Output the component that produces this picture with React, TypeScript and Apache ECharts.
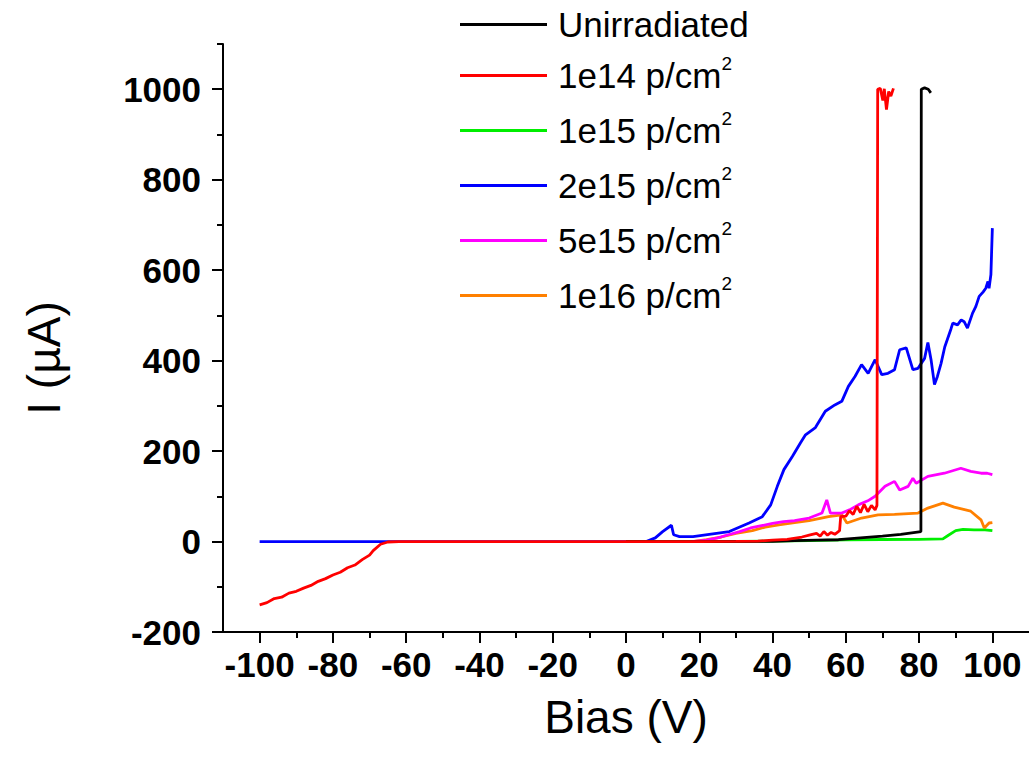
import React, { useEffect, useRef } from "react";
import * as echarts from "echarts";

// Tick values
const xMajorTicks = [-100, -80, -60, -40, -20, 0, 20, 40, 60, 80, 100];
const xMinorTicks = [-90, -70, -50, -30, -10, 10, 30, 50, 70, 90];
const yMajorTicks = [-200, 0, 200, 400, 600, 800, 1000];
const yMinorTicks = [-100, 100, 300, 500, 700, 900, 1100];

// Series names
const seriesNames = ["Unirradiated", "1e14 p/cm", "1e15 p/cm", "2e15 p/cm", "5e15 p/cm", "1e16 p/cm"];
const seriesColors = ["#000000", "#ff0000", "#00ee00", "#0000ff", "#ff00ff", "#ff8000"];

// [Bias (V), I (uA)]
const unirradiated = [
  [0, 0], [20, 0], [40, 0.5], [46, 2], [52, 3], [58, 4], [64, 8], [70, 12], [75, 16], [80.5, 22],
  [80.6, 1000], [81.5, 1003], [82.5, 1000], [83.2, 992],
];
const p1e14 = [
  [-100, -140], [-98, -135], [-96, -126], [-94, -123], [-92, -114], [-90, -110], [-88, -103], [-86, -97],
  [-84, -88], [-82, -82], [-80, -74], [-78, -68], [-76, -58], [-74, -52], [-72, -40], [-70, -30],
  [-69, -20], [-67, -6], [-65, -1], [-62, 0], [-40, 0], [0, 0],
  [20, 0], [30, 0.5], [36, 1], [40, 3], [44, 5], [48, 10], [50, 14], [52, 18], [53, 12], [54, 22],
  [55, 14], [56, 20], [57, 16], [58.3, 24], [58.6, 55], [60, 56], [61, 68], [62, 60], [63, 78],
  [64, 64], [65, 82], [66, 66], [67, 80], [68, 70], [68.5, 80], [68.7, 1000], [69.4, 1002],
  [70.1, 975], [70.5, 1001], [71.1, 955], [71.7, 995], [72.3, 985], [73, 1002],
];
const p1e15 = [
  [0, 0], [20, 0], [30, 0.5], [40, 1], [50, 2], [60, 3.5], [70, 4.5], [80, 5], [86.5, 6], [88, 14],
  [90, 24], [92, 27], [95, 26], [98, 26], [100, 24],
];
const p2e15 = [
  [-100, 0], [-60, 0], [0, 0], [5.5, 0], [8, 8], [10, 22], [12.4, 36], [13, 15], [14.6, 11], [18.3, 11],
  [23.7, 17], [28.2, 22], [33.6, 41], [37.2, 55], [39.5, 81], [41.3, 122], [43.1, 159], [45.4, 188],
  [47.6, 218], [49, 236], [51.7, 252], [54.4, 288], [57, 302], [58.9, 310], [60.7, 343], [62.5, 365],
  [64.3, 391], [66.1, 372], [68, 402], [69.8, 369], [71.5, 372], [73.3, 380], [74.7, 424], [76.5, 428],
  [78.3, 380], [79.7, 383], [81.5, 405], [82.4, 440], [83.3, 400], [84.2, 347], [85, 365], [86, 394],
  [87, 430], [88.7, 470], [89.2, 483], [90.5, 479], [91.5, 490], [92.3, 486], [93.2, 472], [94.6, 505],
  [95.5, 520], [96.4, 542], [97.5, 552], [98.2, 560], [98.8, 575], [99.1, 560], [99.6, 590], [100, 693],
];
const p5e15 = [
  [18, 0], [22, 3], [25, 8], [28, 15], [31, 22], [34, 30], [37, 35], [40, 40], [43, 44], [46, 46],
  [50, 52], [53.5, 63], [54.8, 92], [55.8, 63], [58.9, 63], [61, 70], [63.4, 81], [66, 90], [68, 100],
  [70.7, 122], [73.3, 133], [74.7, 114], [77, 122], [78.3, 140], [79.2, 129], [82.4, 144], [86.9, 151],
  [91.4, 162], [94.1, 155], [96.9, 151], [98.6, 151], [100, 148],
];
const p1e16 = [
  [18, 0], [22, 4], [26, 10], [30, 18], [34.5, 24], [38, 32], [41.7, 37], [46, 42], [50, 46],
  [55.3, 55], [58.9, 59], [60.3, 41], [64.3, 52], [68.8, 59], [73.3, 60], [79.7, 63], [82.4, 74],
  [86.5, 85], [89.6, 76], [94.1, 67], [96.9, 48], [97.8, 30], [99.1, 41], [100, 42],
];

const seriesData = [unirradiated, p1e14, p1e15, p2e15, p5e15, p1e16];
const seriesZ = [5, 6, 3, 2, 4, 3];

const FONT = "Liberation Sans, Arial, sans-serif";

export default function App() {
  const ref = useRef<HTMLDivElement>(null);
  useEffect(() => {
    if (!ref.current) return;
    const chart = echarts.init(ref.current, null, { renderer: "svg" });
    const axisLineStyle = { color: "#000", width: 2 };
    const labelStyle = {
      show: true,
      fontSize: 35,
      fontWeight: "bold",
      fontFamily: FONT,
      color: "#000",
      formatter: (v: number) => String(v),
    };
    chart.setOption({
      animation: false,
      backgroundColor: "#ffffff",
      grid: { left: 223, top: 44, right: -6, bottom: 133, containLabel: false },
      legend: {
        show: true,
        orient: "vertical",
        left: 460,
        top: 7,
        padding: 0,
        itemWidth: 87,
        itemHeight: 3,
        itemGap: 12,
        icon: "rect",
        data: seriesNames,
        formatter: (name: string) => (name === "Unirradiated" ? `{a|${name}}` : `{a|${name}}{s|2}`),
        textStyle: {
          rich: {
            a: { fontSize: 35, fontFamily: FONT, color: "#000", lineHeight: 42, padding: [0, 0, 0, 6] },
            s: { fontSize: 19, fontFamily: FONT, color: "#000", lineHeight: 18, padding: [0, 0, 24, 0] },
          },
        },
      },
      graphic: [
        {
          type: "text",
          x: 44,
          y: 358,
          rotation: Math.PI / 2,
          style: {
            text: "I (\u00b5A)",
            fontSize: 46,
            fontFamily: FONT,
            fill: "#000",
            align: "center",
            verticalAlign: "middle",
          },
        },
      ],
      xAxis: [
        {
          type: "value",
          min: -110,
          max: 110,
          name: "Bias (V)",
          nameLocation: "middle",
          nameGap: 62,
          nameTextStyle: { fontSize: 46, fontFamily: FONT, color: "#000" },
          axisLine: { show: true, onZero: false, lineStyle: axisLineStyle },
          axisTick: { show: true, length: 11, lineStyle: axisLineStyle, customValues: xMajorTicks },
          axisLabel: { ...labelStyle, margin: 15, customValues: xMajorTicks },
          splitLine: { show: false },
        },
        {
          type: "value",
          min: -110,
          max: 110,
          position: "bottom",
          axisLine: { show: false, onZero: false },
          axisTick: { show: true, length: 6, lineStyle: axisLineStyle, customValues: xMinorTicks },
          axisLabel: { show: false },
          splitLine: { show: false },
        },
      ],
      yAxis: [
        {
          type: "value",
          min: -200,
          max: 1100,
          axisLine: { show: true, onZero: false, lineStyle: axisLineStyle },
          axisTick: { show: true, length: 11, lineStyle: axisLineStyle, customValues: yMajorTicks },
          axisLabel: { ...labelStyle, margin: 22, customValues: yMajorTicks },
          splitLine: { show: false },
        },
        {
          type: "value",
          min: -200,
          max: 1100,
          position: "left",
          axisLine: { show: false, onZero: false },
          axisTick: { show: true, length: 6, lineStyle: axisLineStyle, customValues: yMinorTicks },
          axisLabel: { show: false },
          splitLine: { show: false },
        },
      ],
      series: seriesNames.map((name, i) => ({
        name,
        type: "line",
        xAxisIndex: 0,
        yAxisIndex: 0,
        data: seriesData[i],
        showSymbol: false,
        symbol: "none",
        z: seriesZ[i],
        color: seriesColors[i],
        lineStyle: { color: seriesColors[i], width: 2.8 },
      })),
    });
    return () => chart.dispose();
  }, []);
  return (
    <div
      ref={ref}
      style={{ position: "fixed", left: 0, top: 0, width: 1029, height: 765, background: "#fff" }}
    />
  );
}
